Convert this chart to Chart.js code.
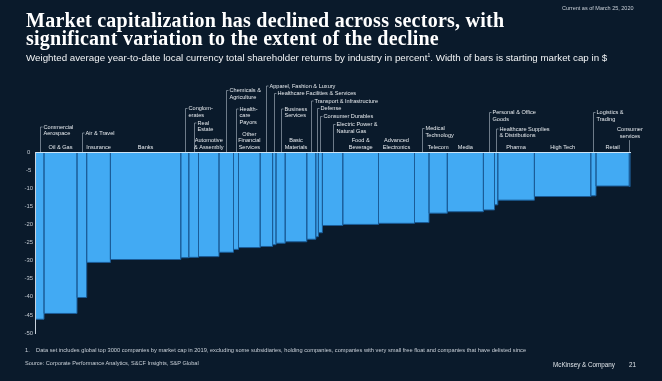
<!DOCTYPE html>
<html>
<head>
<meta charset="utf-8">
<script src="https://cdn.jsdelivr.net/npm/chart.js@4.4.1/dist/chart.umd.min.js"></script>
<style>
html,body{margin:0;padding:0;background:#0a1a2b;}
#wrap{position:relative;width:662px;height:381px;overflow:hidden;background:#0a1a2b;font-family:"Liberation Sans",Arial,sans-serif;color:#fff;}
#c{position:absolute;left:0;top:0;}
.t{position:absolute;white-space:nowrap;}
#title{left:26px;top:11px;font-family:"Liberation Serif",serif;font-weight:bold;font-size:20px;letter-spacing:0.25px;line-height:18px;color:#fff;}
#sub{left:26px;top:49px;font-size:9.78px;line-height:12px;color:#f2f4f6;}
#sub sup{font-size:5px;vertical-align:4px;}
#asof{left:562px;top:5px;font-size:5.5px;line-height:6px;color:#c9d0d8;}
#foot{left:25px;top:347px;font-size:5.7px;line-height:6px;color:#c9d0d8;}
#src{left:25px;top:359.5px;font-size:5.6px;line-height:6px;color:#c9d0d8;}
#mck{left:553px;top:360.5px;font-size:6.3px;line-height:7px;color:#dfe4e9;}
#pg{left:629px;top:360.5px;font-size:6.3px;line-height:7px;color:#dfe4e9;}
</style>
</head>
<body>
<div id="wrap">
  <canvas id="c" width="662" height="381"></canvas>
  <div class="t" id="title">Market capitalization has declined across sectors, with<br>significant variation to the extent of the decline</div>
  <div class="t" id="sub">Weighted average year-to-date local currency total shareholder returns by industry in percent<sup>1</sup>. Width of bars is starting market cap in $</div>
  <div class="t" id="asof">Current as of March 25, 2020</div>
  <div class="t" id="foot">1.&nbsp;&nbsp;&nbsp;&nbsp;Data set includes global top 3000 companies by market cap in 2019, excluding some subsidiaries, holding companies, companies with very small free float and companies that have delisted since</div>
  <div class="t" id="src">Source: Corporate Performance Analytics, S&amp;CF Insights, S&amp;P Global</div>
  <div class="t" id="mck">McKinsey &amp; Company</div>
  <div class="t" id="pg">21</div>
</div>
<script>
// ---- data ----
const industries = [
  "Commercial Aerospace", "Oil & Gas", "Air & Travel", "Insurance", "Banks",
  "Conglomerates", "Real Estate", "Automotive & Assembly", "Chemicals & Agriculture", "Healthcare Payors",
  "Other Financial Services", "Apparel, Fashion & Luxury", "Healthcare Facilities & Services", "Business Services", "Basic Materials",
  "Transport & Infrastructure", "Defense", "Consumer Durables", "Electric Power & Natural Gas", "Food & Beverage",
  "Advanced Electronics", "Medical Technology", "Telecom", "Media", "Personal & Office Goods",
  "Healthcare Supplies & Distributions", "Pharma", "High Tech", "Logistics & Trading", "Retail",
  "Consumer services"
];
// starting market cap (relative units)
const marketCap = [
  9.0, 33.0, 9.7, 23.7, 70.4,
  8.0, 9.7, 20.5, 14.5, 5.0,
  21.7, 12.4, 3.4, 9.2, 21.6,
  9.0, 2.6, 4.0, 20.4, 35.7,
  36.0, 14.5, 18.3, 36.1, 11.1,
  3.3, 36.6, 56.4, 5.2, 33.3,
  1.2
];
// YTD total shareholder return, %
const tsr = [
  -46.2, -44.6, -40.2, -30.5, -29.7,
  -29.2, -29.1, -28.9, -27.7, -26.9,
  -26.4, -26.1, -25.6, -25.2, -24.8,
  -24.1, -23.4, -22.3, -20.3, -20.0,
  -19.7, -19.5, -16.9, -16.5, -16.0,
  -14.6, -13.3, -12.3, -12.1, -9.4,
  -9.5
];
const yTicks = [0, -5, -10, -15, -20, -25, -30, -35, -40, -45, -50];

// ---- label layout (style only): lines, mode, first-line centre y in px ----
const labelLayout = [
  {lines:["Commercial","Aerospace"], mode:"bracket", y:127},
  {lines:["Oil & Gas"], mode:"center", y:147.5},
  {lines:["Air & Travel"], mode:"bracket", y:133},
  {lines:["Insurance"], mode:"center", y:147.5},
  {lines:["Banks"], mode:"center", y:147.5},
  {lines:["Conglom-","erates"], mode:"bracket", y:108.5},
  {lines:["Real","Estate"], mode:"bracket", y:123},
  {lines:["Automotive","& Assembly"], mode:"center", y:140.5},
  {lines:["Chemicals &","Agriculture"], mode:"bracket", y:90.5},
  {lines:["Health-","care","Payors"], mode:"bracket", y:109},
  {lines:["Other","Financial","Services"], mode:"center", y:134},
  {lines:["Apparel, Fashion & Luxury"], mode:"bracket", y:86},
  {lines:["Healthcare Facilities & Services"], mode:"bracket", y:93.5},
  {lines:["Business","Services"], mode:"bracket", y:109},
  {lines:["Basic","Materials"], mode:"center", y:140.5},
  {lines:["Transport & Infrastructure"], mode:"bracket", y:101},
  {lines:["Defense"], mode:"bracket", y:108.5},
  {lines:["Consumer Durables"], mode:"bracket", y:116.5},
  {lines:["Electric Power &","Natural Gas"], mode:"bracket", y:124.5},
  {lines:["Food &","Beverage"], mode:"center", y:140.5},
  {lines:["Advanced","Electronics"], mode:"center", y:140.5},
  {lines:["Medical","Technology"], mode:"bracket", y:128.5},
  {lines:["Telecom"], mode:"center", y:147.5},
  {lines:["Media"], mode:"center", y:147.5},
  {lines:["Personal & Office","Goods"], mode:"bracket", y:112.5},
  {lines:["Healthcare Supplies","& Distributions"], mode:"bracket", y:129},
  {lines:["Pharma"], mode:"center", y:147.5},
  {lines:["High Tech"], mode:"center", y:147.5},
  {lines:["Logistics &","Trading"], mode:"bracket", y:112.5},
  {lines:["Retail"], mode:"center", y:147.5},
  {lines:["Consumer","services"], mode:"drop", y:129.5}
];

// ---- build variable-width bars as outlined, filled step polygons ----
const starts = [];
let acc = 0;
marketCap.forEach(w => { starts.push(acc); acc += w; });
const total = acc;
const outline = [];
industries.forEach((name, i) => {
  const s = starts[i], e = s + marketCap[i], v = tsr[i];
  outline.push({x:s, y:0}, {x:s, y:v}, {x:e, y:v}, {x:e, y:0});
});

const LINE_H = 6.6;
const labelPlugin = {
  id: 'sectorLabels',
  afterDraw(chart) {
    const {ctx, chartArea, scales} = chart;
    const xs = scales.x;
    const top = chartArea.top;
    ctx.save();
    ctx.font = '5.6px "Liberation Sans", Arial, sans-serif';
    ctx.textBaseline = 'middle';
    ctx.lineWidth = 0.7;
    ctx.strokeStyle = '#9aa6b2';
    ctx.fillStyle = '#e6eaee';
    industries.forEach((name, i) => {
      const L = labelLayout[i];
      const cx = xs.getPixelForValue(starts[i] + marketCap[i] / 2);
      if (L.mode === 'center') {
        ctx.textAlign = 'center';
        L.lines.forEach((t, k) => ctx.fillText(t, cx, L.y + k * LINE_H));
      } else if (L.mode === 'bracket') {
        const bx = Math.round(cx) + 0.5;
        ctx.beginPath();
        ctx.moveTo(bx, top);
        ctx.lineTo(bx, L.y);
        ctx.lineTo(bx + 2, L.y);
        ctx.stroke();
        ctx.textAlign = 'left';
        L.lines.forEach((t, k) => ctx.fillText(t, bx + 3, L.y + k * LINE_H));
      } else {
        const bx = Math.round(cx) - 0.5;
        ctx.textAlign = 'center';
        L.lines.forEach((t, k) => ctx.fillText(t, cx, L.y + k * LINE_H));
        const bottom = L.y + (L.lines.length - 1) * LINE_H + 4;
        ctx.beginPath();
        ctx.moveTo(bx, bottom);
        ctx.lineTo(bx, top);
        ctx.stroke();
      }
    });
    ctx.restore();
  }
};

new Chart(document.getElementById('c'), {
  type: 'line',
  data: {
    datasets: [{
      data: outline,
      fill: 'origin',
      backgroundColor: '#42aaf3',
      borderColor: '#1b5c97',
      borderWidth: 1,
      pointRadius: 0,
      tension: 0
    }]
  },
  options: {
    responsive: false,
    devicePixelRatio: 1,
    animation: false,
    events: [],
    layout: {padding: {top: 152, bottom: 48, left: 0, right: 31.5}},
    plugins: {legend: {display: false}, tooltip: {enabled: false}},
    scales: {
      x: {
        type: 'linear',
        position: 'top',
        min: 0,
        max: total,
        ticks: {display: false},
        grid: {display: false, drawTicks: false},
        border: {display: true, color: '#cfe4f4', width: 1, z: 1},
        afterFit: s => { s.height = 0; }
      },
      y: {
        type: 'linear',
        min: -50,
        max: 0,
        afterBuildTicks: s => { s.ticks = yTicks.map(v => ({value: v})); },
        ticks: {
          color: '#c3cad2',
          font: {family: '"Liberation Sans", Arial, sans-serif', size: 5.9},
          padding: 2,
          crossAlign: 'center'
        },
        grid: {display: false, drawTicks: false},
        border: {display: true, color: '#c8d2dc', width: 1, z: 1},
        afterFit: s => { s.width = 35; }
      }
    }
  },
  plugins: [labelPlugin]
});
</script>
</body>
</html>
